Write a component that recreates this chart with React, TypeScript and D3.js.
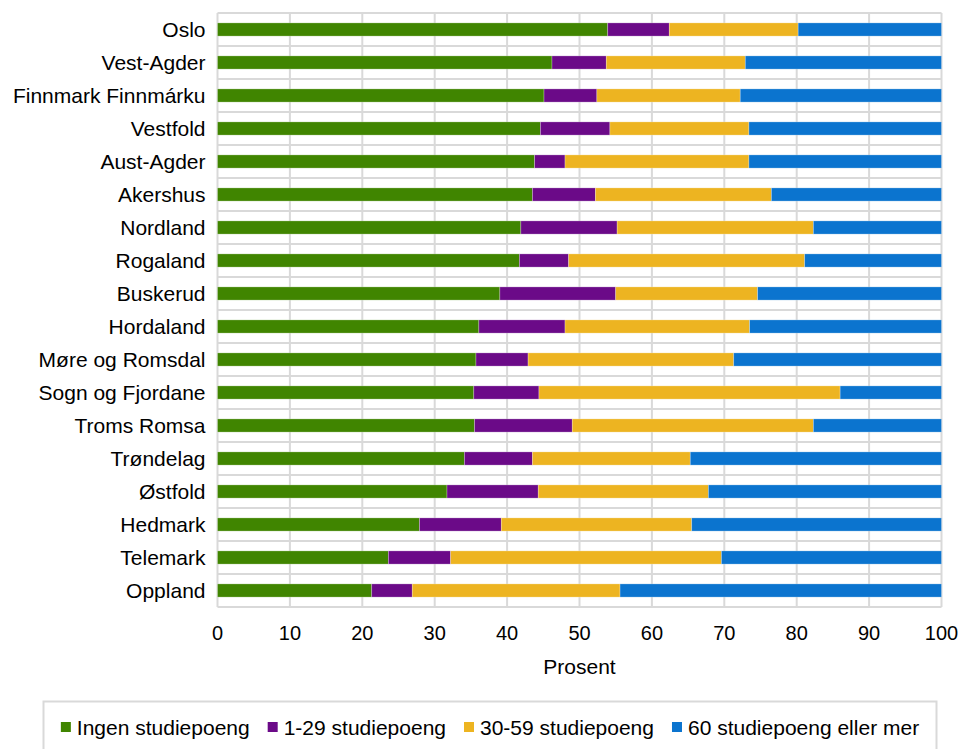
import { useEffect, useRef } from 'react';
import * as d3 from 'd3';

const categories = [
  'Oslo',
  'Vest-Agder',
  'Finnmark Finnmárku',
  'Vestfold',
  'Aust-Agder',
  'Akershus',
  'Nordland',
  'Rogaland',
  'Buskerud',
  'Hordaland',
  'Møre og Romsdal',
  'Sogn og Fjordane',
  'Troms Romsa',
  'Trøndelag',
  'Østfold',
  'Hedmark',
  'Telemark',
  'Oppland',
];

const seriesNames = [
  'Ingen studiepoeng',
  '1-29 studiepoeng',
  '30-59 studiepoeng',
  '60 studiepoeng eller mer',
];

const ingen = [53.9, 46.2, 45.1, 44.6, 43.8, 43.5, 41.9, 41.7, 39.0, 36.1, 35.7, 35.4, 35.5, 34.1, 31.7, 27.9, 23.6, 21.3];
const lav = [8.5, 7.5, 7.3, 9.6, 4.2, 8.7, 13.3, 6.8, 16.0, 11.9, 7.2, 9.0, 13.5, 9.4, 12.6, 11.3, 8.6, 5.6];
const middels = [17.8, 19.2, 19.8, 19.2, 25.4, 24.3, 27.1, 32.6, 19.6, 25.5, 28.4, 41.6, 33.3, 21.8, 23.5, 26.3, 37.4, 28.7];
const full = [19.8, 27.1, 27.8, 26.6, 26.6, 23.5, 17.7, 18.9, 25.4, 26.5, 28.7, 14.0, 17.7, 34.7, 32.2, 34.5, 30.4, 44.4];

const xTicks = [0, 10, 20, 30, 40, 50, 60, 70, 80, 90, 100];
const colors = ['#408500', '#6b0a88', '#edb421', '#0b74cf'];

export default function App() {
  const ref = useRef<SVGSVGElement | null>(null);

  useEffect(() => {
    const width = 962;
    const height = 749;
    const left = 217.5;
    const right = 941.5;
    const top = 13;
    const bottom = 607;
    const font = 'Arial, "Liberation Sans", sans-serif';

    const svg = d3.select(ref.current);
    svg.selectAll('*').remove();
    svg.attr('width', width).attr('height', height);

    const rows = categories.map((c, i) => ({
      name: c,
      s0: ingen[i],
      s1: lav[i],
      s2: middels[i],
      s3: full[i],
    }));
    const keys = ['s0', 's1', 's2', 's3'];
    const stacked = d3.stack<any>().keys(keys)(rows);

    const x = d3.scaleLinear().domain([0, 100]).range([left, right]);
    const y = d3
      .scaleBand()
      .domain(categories)
      .range([top, bottom])
      .paddingInner(0.6)
      .paddingOuter(0.3);
    const grid = d3.scaleBand().domain(categories).range([top, bottom]);

    // gridlines
    const g = svg.append('g');
    g.selectAll('line.v')
      .data(xTicks)
      .enter()
      .append('line')
      .attr('x1', (d) => x(d))
      .attr('x2', (d) => x(d))
      .attr('y1', top)
      .attr('y2', bottom)
      .attr('stroke', '#d9d9d9')
      .attr('stroke-width', 2);
    g.selectAll('line.h')
      .data([...categories.map((c) => grid(c) as number), bottom])
      .enter()
      .append('line')
      .attr('x1', left)
      .attr('x2', right)
      .attr('y1', (d) => d)
      .attr('y2', (d) => d)
      .attr('stroke', '#d9d9d9')
      .attr('stroke-width', 2);

    // bars
    svg
      .append('g')
      .selectAll('g')
      .data(stacked)
      .enter()
      .append('g')
      .attr('fill', (_d, i) => colors[i])
      .selectAll('rect')
      .data((d) => d)
      .enter()
      .append('rect')
      .attr('x', (d) => x(d[0]))
      .attr('width', (d) => x(d[1]) - x(d[0]))
      .attr('y', (d) => y(d.data.name) as number)
      .attr('height', y.bandwidth())
      .attr('stroke', 'white')
      .attr('stroke-opacity', 0.35)
      .attr('stroke-width', 0.75);

    // category labels
    svg
      .append('g')
      .selectAll('text')
      .data(categories)
      .enter()
      .append('text')
      .attr('x', left - 12)
      .attr('y', (d) => (y(d) as number) + y.bandwidth() / 2 + 7.5)
      .attr('text-anchor', 'end')
      .style('font-family', font)
      .style('font-size', '21px')
      .style('fill', '#000')
      .text((d) => d);

    // tick labels
    svg
      .append('g')
      .selectAll('text')
      .data(xTicks)
      .enter()
      .append('text')
      .attr('x', (d) => x(d))
      .attr('y', 639.5)
      .attr('text-anchor', 'middle')
      .style('font-family', font)
      .style('font-size', '20px')
      .style('fill', '#000')
      .text((d) => d);

    svg
      .append('text')
      .attr('x', (left + right) / 2)
      .attr('y', 674)
      .attr('text-anchor', 'middle')
      .style('font-family', font)
      .style('font-size', '21px')
      .style('fill', '#000')
      .text('Prosent');

    // legend
    svg
      .append('rect')
      .attr('x', 43.5)
      .attr('y', 701.5)
      .attr('width', 893)
      .attr('height', 70)
      .attr('fill', 'white')
      .attr('stroke', '#d9d9d9')
      .attr('stroke-width', 2);

    const legend = svg.append('g');
    const items = legend
      .selectAll('g')
      .data(seriesNames)
      .enter()
      .append('g');
    items
      .append('rect')
      .attr('width', 10)
      .attr('height', 10)
      .attr('y', 722)
      .attr('fill', (_d, i) => colors[i]);
    items
      .append('text')
      .attr('x', 16)
      .attr('y', 734.5)
      .style('font-family', font)
      .style('font-size', '21px')
      .style('fill', '#000')
      .text((d) => d);

    // place items side by side using measured text widths
    const widths: number[] = [];
    items.select('text').each(function () {
      widths.push((this as SVGTextElement).getComputedTextLength());
    });
    const gap = 18;
    const total = widths.reduce((a, w) => a + 16 + w, 0) + gap * (widths.length - 1);
    let cx = 490 - total / 2;
    items.each(function (_d, i) {
      d3.select(this).attr('transform', `translate(${cx},0)`);
      cx += 16 + widths[i] + gap;
    });
  }, []);

  return (
    <svg
      ref={ref}
      style={{ position: 'absolute', left: 0, top: 0, background: 'white' }}
    />
  );
}
